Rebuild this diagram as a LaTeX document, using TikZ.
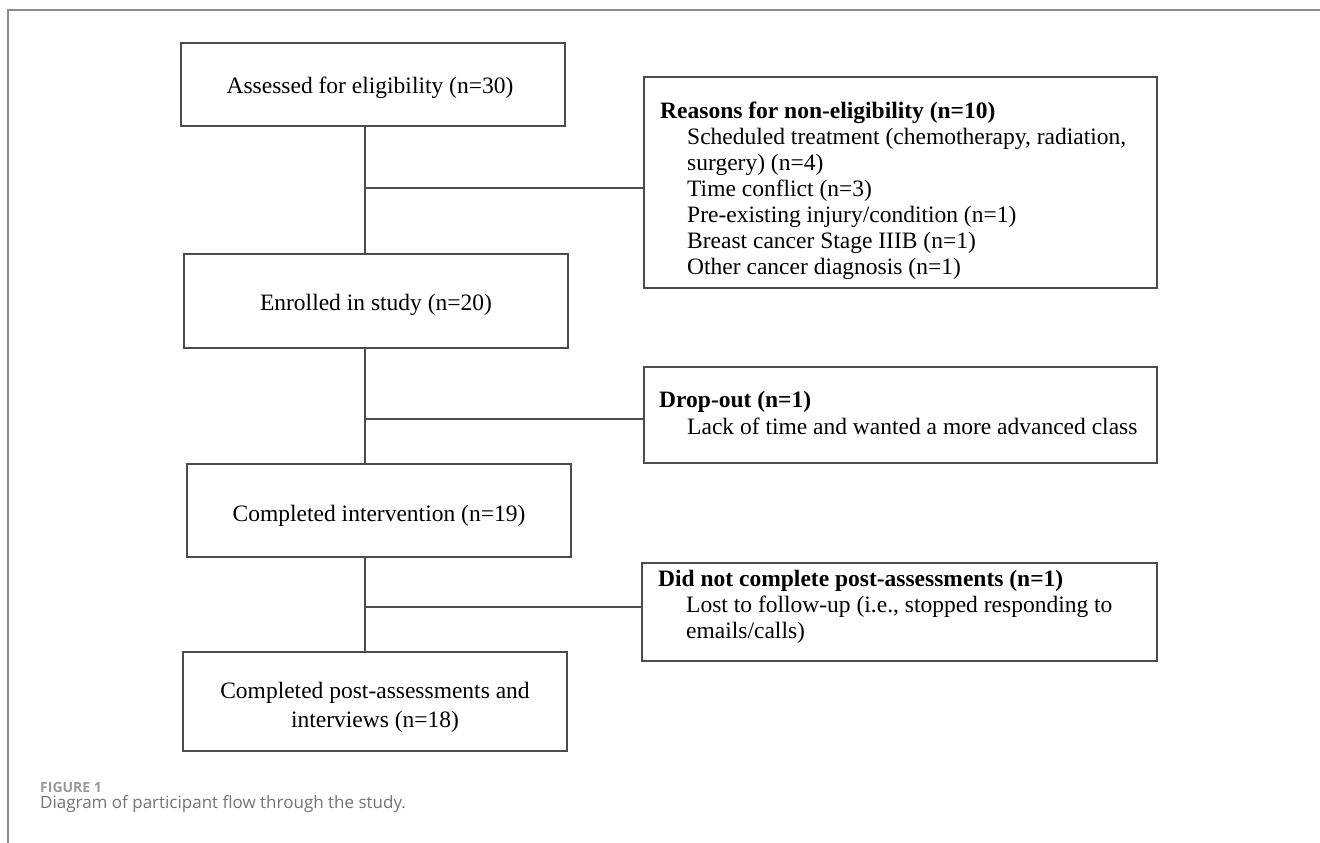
\documentclass[tikz,border=0pt]{standalone}
\usepackage{fontspec}
\setmainfont{Liberation Serif}
\newfontfamily\capfont{Open Sans}
\begin{document}
\begin{tikzpicture}[x=1pt,y=-1pt,
  box/.style={draw=black!70, line width=1.2pt, rectangle, inner sep=0pt},
  conn/.style={draw=black!70, line width=1.2pt},
  ctxt/.style={anchor=base, inner sep=0pt, font=\fontsize{23.5}{26}\selectfont},
  txt/.style={anchor=base west, inner sep=0pt, font=\fontsize{23.5}{26}\selectfont},
  frame/.style={draw=black!45, line width=2pt}]
\path[use as bounding box] (0,0) rectangle (1320,843);
% outer frame
\coordinate (fa) at (7.5,843);
\coordinate (fb) at (7.5,10);
\coordinate (fc) at (1320,10);
\draw[frame] (fa) -- (fb) -- (fc);
% left column boxes
\node[box, minimum width=384pt, minimum height=83pt] (b1) at (373,84.5) {};
\node[box, minimum width=384pt, minimum height=94pt] (b2) at (376,301) {};
\node[box, minimum width=384pt, minimum height=93pt] (b3) at (379,510.5) {};
\node[box, minimum width=384pt, minimum height=99pt] (b4) at (375,701.5) {};
\node[ctxt] (t1) at (370,93) {Assessed for eligibility (n=30)};
\node[ctxt] (t2) at (376,310) {Enrolled in study (n=20)};
\node[ctxt] (t3) at (379,521) {Completed intervention (n=19)};
\node[ctxt] (t4a) at (375,698) {Completed post-assessments and};
\node[ctxt] (t4b) at (375,727) {interviews (n=18)};
% right column boxes
\node[box, minimum width=513pt, minimum height=211pt] (r1) at (900.5,182.5) {};
\node[box, minimum width=513pt, minimum height=96pt] (r2) at (900.5,415) {};
\node[box, minimum width=515pt, minimum height=98pt] (r3) at (899.5,612) {};
% texts right
\node[txt] (r1a) at (660,118) {\textbf{Reasons for non-eligibility (n=10)}};
\node[txt] (r1b) at (687,144) {Scheduled treatment (chemotherapy, radiation,};
\node[txt] (r1c) at (687,170) {surgery) (n=4)};
\node[txt] (r1d) at (687,196) {Time conflict (n=3)};
\node[txt] (r1e) at (687,222) {Pre-existing injury/condition (n=1)};
\node[txt] (r1f) at (687,248) {Breast cancer Stage IIIB (n=1)};
\node[txt] (r1g) at (687,274) {Other cancer diagnosis (n=1)};
\node[txt] (r2a) at (659,407) {\textbf{Drop-out (n=1)}};
\node[txt] (r2b) at (687,434) {Lack of time and wanted a more advanced class};
\node[txt] (r3a) at (658,586) {\textbf{Did not complete post-assessments (n=1)}};
\node[txt] (r3b) at (686,612) {Lost to follow-up (i.e., stopped responding to};
\node[txt] (r3c) at (686,638) {emails/calls)};
% connectors
\coordinate (sp) at (365,0);
\draw[conn] (b1.south -| sp) -- (b2.north -| sp);
\draw[conn] (b2.south -| sp) -- (b3.north -| sp);
\draw[conn] (b3.south -| sp) -- (b4.north -| sp);
\coordinate (j1) at (365,188);
\coordinate (j2) at (365,419);
\coordinate (j3) at (365,607);
\draw[conn] (j1) -- (j1 -| r1.west);
\draw[conn] (j2) -- (j2 -| r2.west);
\draw[conn] (j3) -- (j3 -| r3.west);
% caption
\node[anchor=base west, inner sep=0pt, font=\capfont\bfseries\fontsize{14}{16}\selectfont, text=black!40] (cap1) at (40,792) {FIGURE 1};
\node[anchor=base west, inner sep=0pt, font=\capfont\fontsize{17}{19}\selectfont, text=black!55] (cap2) at (40,808) {Diagram of participant flow through the study.};
\end{tikzpicture}
\end{document}
